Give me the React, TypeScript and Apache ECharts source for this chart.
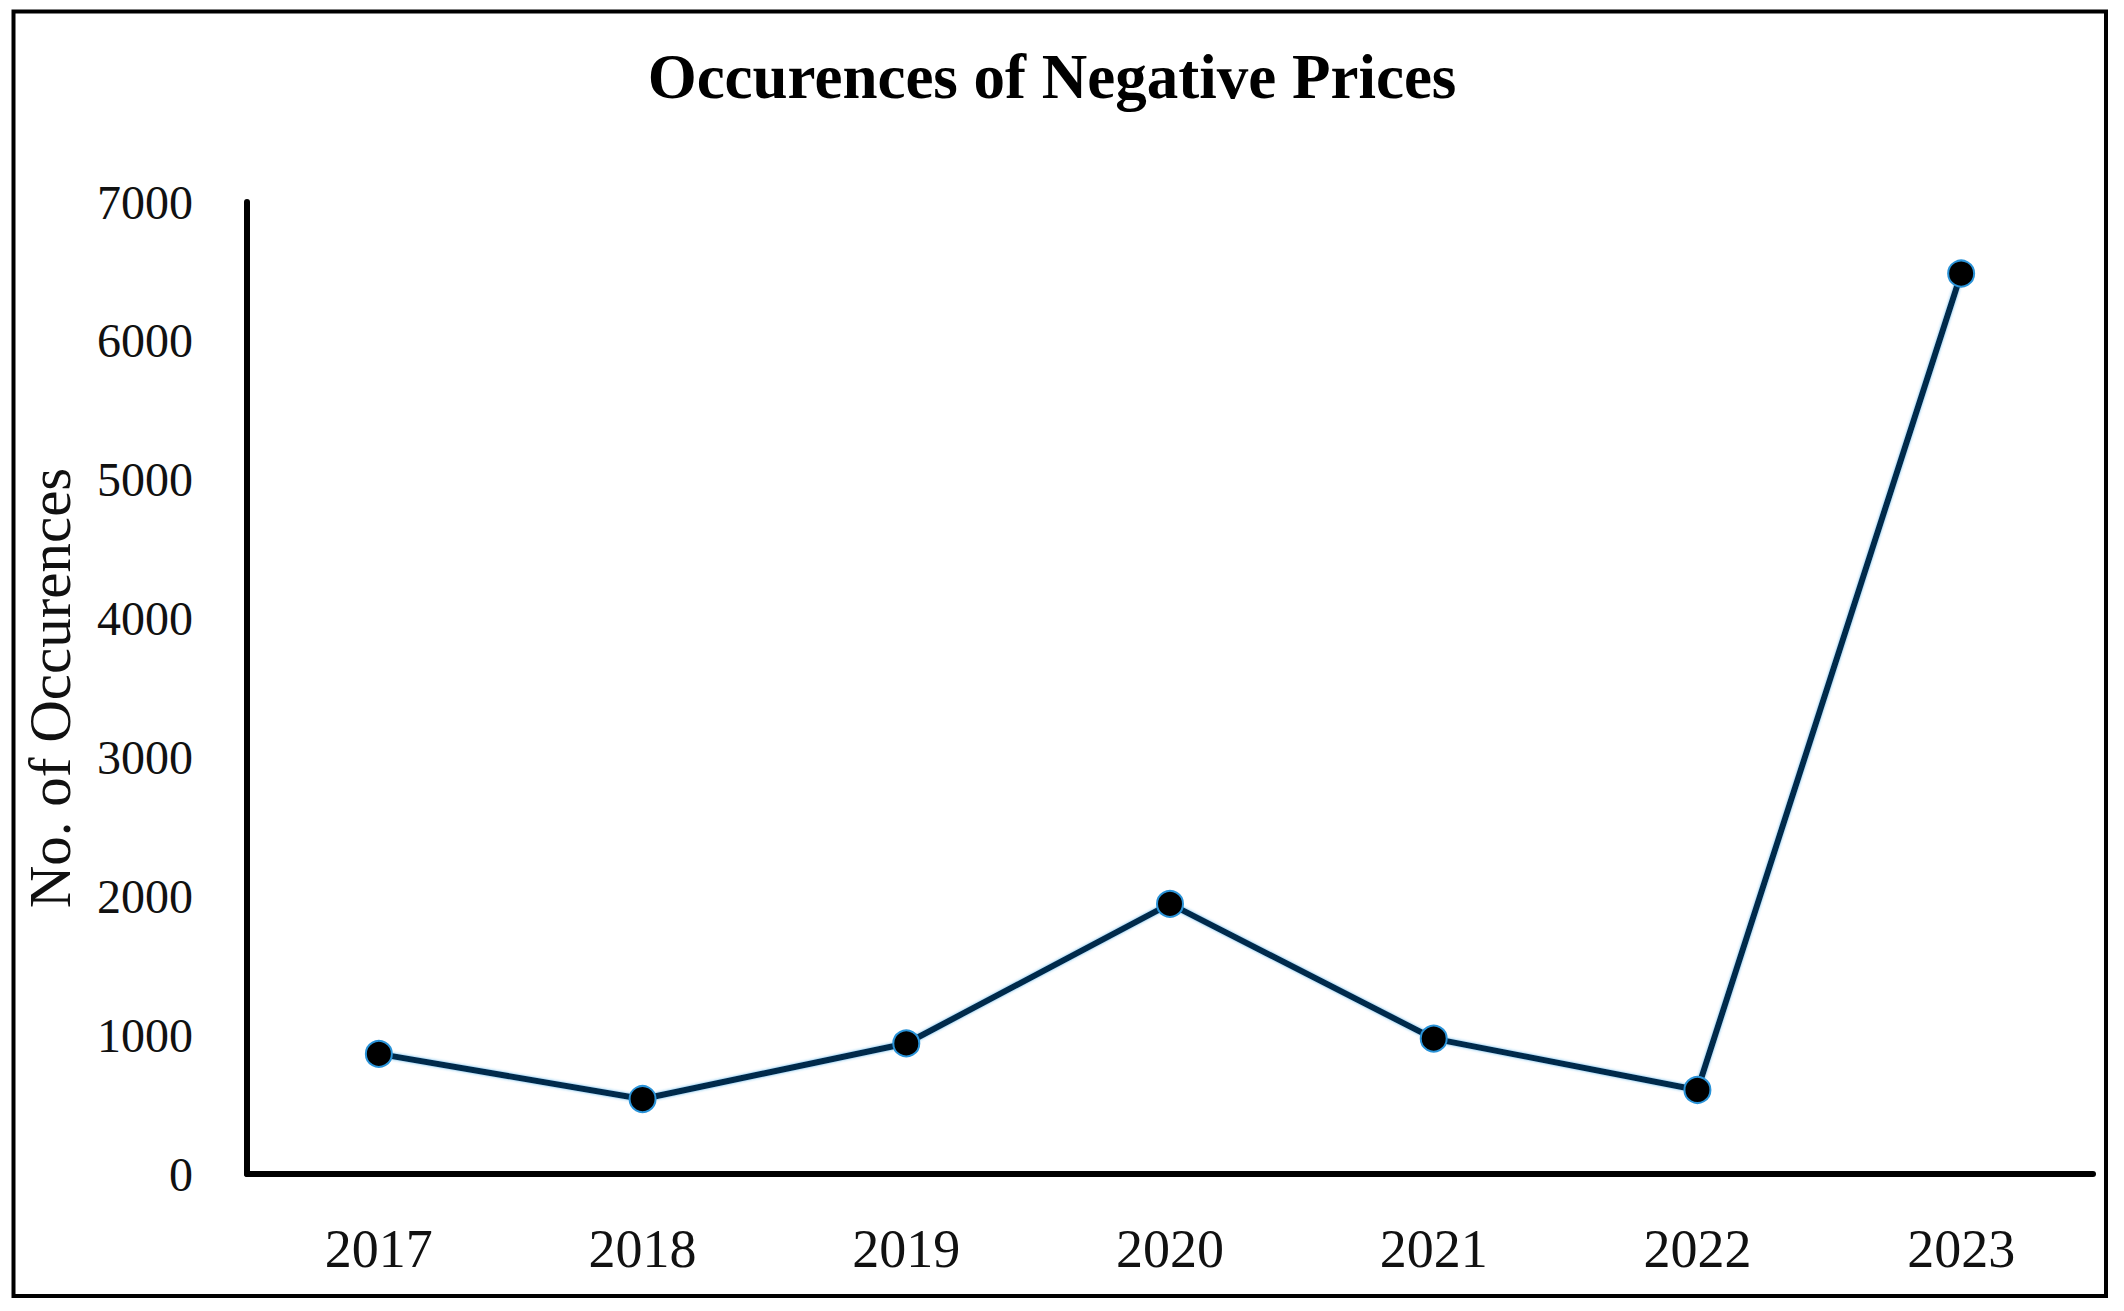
import React, { useEffect, useRef } from "react";
import * as echarts from "echarts";

const years = ["2017", "2018", "2019", "2020", "2021", "2022", "2023"];
const occurrences = [865, 540, 940, 1945, 975, 605, 6485];
const yTicks = { min: 0, max: 7000, interval: 1000 };
const titleText = "Occurences of Negative Prices";
const yAxisName = "No. of Occurences";

export default function App() {
  const ref = useRef<HTMLDivElement>(null);

  useEffect(() => {
    if (!ref.current) return;
    const chart = echarts.init(ref.current, null, { renderer: "svg" });
    const serif = "Liberation Serif";
    chart.setOption({
      animation: false,
      backgroundColor: "#ffffff",
      title: {
        text: titleText,
        left: 1047,
        top: 40,
        textAlign: "center",
        textStyle: {
          fontFamily: serif,
          fontWeight: "bold",
          fontSize: 63,
          color: "#000000",
        },
      },
      graphic: [
        {
          type: "rect",
          shape: { x: 13.5, y: 11.5, width: 2092.5, height: 1284.5 },
          style: { fill: "none", stroke: "#000000", lineWidth: 4 },
          z: 100,
        },
      ],
      grid: {
        left: 247,
        right: 31,
        top: 202,
        bottom: 137,
        containLabel: false,
      },
      xAxis: {
        type: "category",
        data: years,
        boundaryGap: true,
        axisLine: { show: true, lineStyle: { color: "#000000", width: 6 } },
        axisTick: { show: false },
        axisLabel: {
          margin: 48,
          fontFamily: serif,
          fontSize: 54,
          color: "#111111",
        },
        splitLine: { show: false },
      },
      yAxis: {
        type: "value",
        min: yTicks.min,
        max: yTicks.max,
        interval: yTicks.interval,
        name: yAxisName,
        nameLocation: "middle",
        nameGap: 168,
        nameTextStyle: {
          fontFamily: serif,
          fontSize: 59,
          color: "#111111",
        },
        axisLine: { show: true, lineStyle: { color: "#000000", width: 6 } },
        axisTick: { show: false },
        axisLabel: {
          margin: 54,
          fontFamily: serif,
          fontSize: 48,
          color: "#111111",
          padding: [0, 0, 10, 0],
          formatter: (v: number) => String(v),
        },
        splitLine: { show: false },
      },
      series: [
        {
          type: "line",
          data: occurrences,
          symbol: "circle",
          symbolSize: 26,
          lineStyle: {
            color: "#05294c",
            width: 6,
            shadowColor: "rgba(40,150,220,0.7)",
            shadowBlur: 3,
          },
          itemStyle: {
            color: "#000000",
            borderColor: "#2a93d8",
            borderWidth: 2,
          },
          emphasis: { disabled: true },
        },
      ],
    });
    return () => chart.dispose();
  }, []);

  return (
    <div
      ref={ref}
      style={{ position: "absolute", left: 0, top: 0, width: 2124, height: 1311 }}
    />
  );
}
